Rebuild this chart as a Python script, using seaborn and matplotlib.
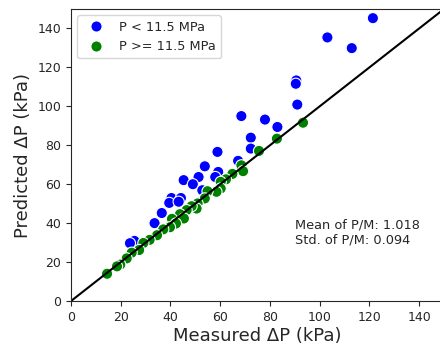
import numpy as np
import pandas as pd
import matplotlib
matplotlib.use('Agg')
import matplotlib.pyplot as plt
import seaborn as sns

# measured / predicted pressure drop (kPa)
low_measured = [121.4, 103.1, 112.9, 90.6, 90.4, 91.0, 68.5, 78.0, 83.0, 72.3,
                72.3, 58.9, 67.2, 53.8, 59.2, 58.0, 51.3, 45.3, 49.0, 52.8,
                40.4, 44.2, 39.5, 43.3, 36.5, 33.6, 25.5, 23.7]
low_predicted = [145.3, 135.4, 129.9, 113.3, 111.6, 100.9, 95.0, 93.2, 89.4, 83.9,
                 78.3, 76.6, 72.0, 69.2, 66.3, 63.7, 63.7, 62.1, 60.0, 56.9,
                 52.9, 52.9, 50.4, 51.0, 45.2, 40.0, 30.9, 29.7]

high_measured = [93.3, 82.8, 75.6, 68.5, 69.2, 64.9, 62.3, 60.2, 60.2, 58.5,
                 54.9, 53.8, 50.9, 50.5, 48.5, 46.5, 43.8, 45.4, 40.6, 42.2,
                 39.8, 37.1, 34.6, 31.6, 29.1, 27.4, 24.4, 22.4, 19.8, 18.5, 14.5]
high_predicted = [91.6, 83.4, 77.1, 69.7, 66.7, 65.3, 62.5, 61.2, 57.8, 56.1,
                  56.4, 52.7, 50.1, 47.5, 48.7, 46.7, 44.6, 42.4, 42.2, 39.8,
                  37.9, 36.8, 33.8, 31.4, 29.8, 26.2, 24.8, 21.9, 18.7, 17.8, 14.0]

groups = ['P < 11.5 MPa', 'P >= 11.5 MPa']
colors = ['blue', 'green']
stats_text = 'Mean of P/M: 1.018\nStd. of P/M: 0.094'

df = pd.concat([
    pd.DataFrame({'measured': low_measured, 'predicted': low_predicted, 'group': groups[0]}),
    pd.DataFrame({'measured': high_measured, 'predicted': high_predicted, 'group': groups[1]}),
])

sns.set_style('ticks')
plt.rcParams['font.family'] = ['DejaVu Sans']

fig = plt.figure(figsize=(4.4, 3.45), dpi=100)
ax = fig.add_axes([0.1614, 0.1275, 0.8477, 0.8464])

sns.scatterplot(data=df, x='measured', y='predicted', hue='group',
                palette=dict(zip(groups, colors)), s=65, edgecolor='white',
                linewidth=0.8, ax=ax)
ax.plot([0, 150], [0, 150], color='black', lw=1.5, zorder=1)

ax.set_xlim(0, 150)
ax.set_ylim(0, 150)
ax.set_xticks(np.arange(0, 141, 20))
ax.set_yticks(np.arange(0, 141, 20))
ax.tick_params(labelsize=9)
ax.set_xlabel('Measured ΔP (kPa)', fontsize=13, labelpad=2)
ax.set_ylabel('Predicted ΔP (kPa)', fontsize=13)
ax.text(90, 35, stats_text, fontsize=9.3, va='center')
ax.legend(loc='upper left', fontsize=9.3, title=None)

fig.savefig('out.png', dpi=100)
